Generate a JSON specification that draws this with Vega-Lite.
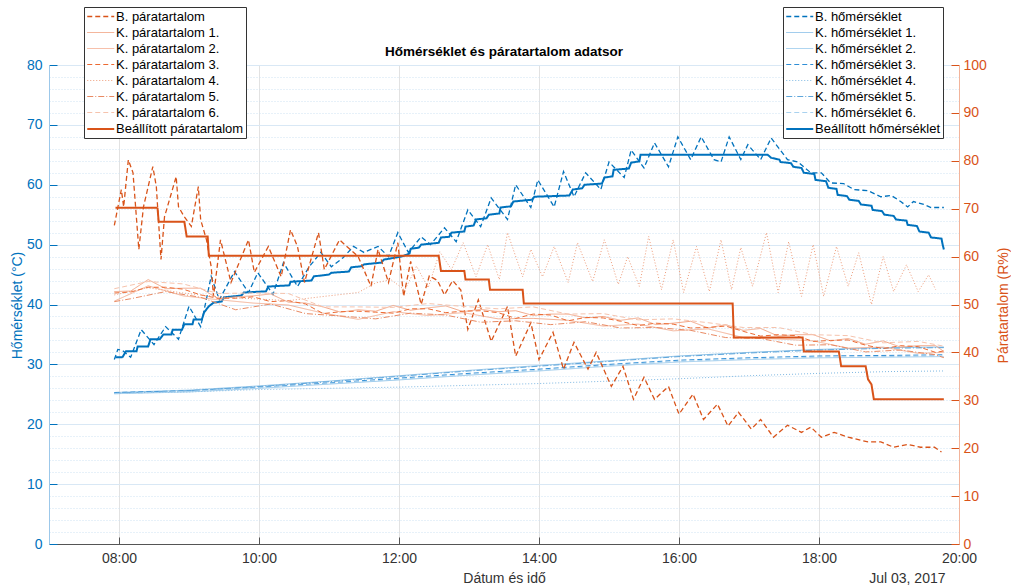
{
"$schema": "https://vega.github.io/schema/vega-lite/v6.json",
"width": 910, "height": 479,
"autosize": {"type": "none"},
"padding": {"left": 49, "top": 65, "right": 52, "bottom": 44},
"background": "white",
"title": {"text": "Hőmérséklet és páratartalom adatsor", "fontSize": 13.5, "fontWeight": "bold", "font": "Liberation Sans", "color": "#000", "offset": 7, "dy": 59, "anchor": "middle"},
"config": {
 "font": "Liberation Sans",
 "view": {"stroke": null},
 "axis": {"labelFont": "Liberation Sans", "titleFont": "Liberation Sans", "labelFontSize": 14, "titleFontSize": 14, "titleFontWeight": "normal"},
 "legend": {"symbolType": "M-1,0H3", "symbolSize": 182, "labelFontSize": 13, "labelFont": "Liberation Sans", "labelColor": "#000", "fillColor": "#fff", "strokeColor": "#333", "padding": 2, "rowPadding": 1, "labelOffset": 14, "labelLimit": 400}
},
"datasets": {
"temp": [
{"s":"B. hőmérséklet","t":"07:56","v":30.8},{"s":"B. hőmérséklet","t":"07:59","v":32.5},{"s":"B. hőmérséklet","t":"08:03","v":32.3},{"s":"B. hőmérséklet","t":"08:10","v":31.2},{"s":"B. hőmérséklet","t":"08:19","v":35.8},{"s":"B. hőmérséklet","t":"08:30","v":33.3},{"s":"B. hőmérséklet","t":"08:40","v":36.3},{"s":"B. hőmérséklet","t":"08:51","v":34.2},{"s":"B. hőmérséklet","t":"09:00","v":39.7},{"s":"B. hőmérséklet","t":"09:10","v":36.3},{"s":"B. hőmérséklet","t":"09:19","v":44.7},{"s":"B. hőmérséklet","t":"09:26","v":40.8},{"s":"B. hőmérséklet","t":"09:39","v":45.5},{"s":"B. hőmérséklet","t":"09:51","v":42.0},{"s":"B. hőmérséklet","t":"09:59","v":45.3},{"s":"B. hőmérséklet","t":"10:12","v":41.7},{"s":"B. hőmérséklet","t":"10:21","v":47.0},{"s":"B. hőmérséklet","t":"10:33","v":43.0},{"s":"B. hőmérséklet","t":"10:43","v":46.3},{"s":"B. hőmérséklet","t":"10:53","v":48.7},{"s":"B. hőmérséklet","t":"11:02","v":46.3},{"s":"B. hőmérséklet","t":"11:12","v":47.8},{"s":"B. hőmérséklet","t":"11:21","v":49.7},{"s":"B. hőmérséklet","t":"11:30","v":48.7},{"s":"B. hőmérséklet","t":"11:42","v":49.7},{"s":"B. hőmérséklet","t":"11:51","v":48.0},{"s":"B. hőmérséklet","t":"11:59","v":52.0},{"s":"B. hőmérséklet","t":"12:08","v":48.7},{"s":"B. hőmérséklet","t":"12:19","v":51.3},{"s":"B. hőmérséklet","t":"12:27","v":50.0},{"s":"B. hőmérséklet","t":"12:39","v":52.8},{"s":"B. hőmérséklet","t":"12:49","v":50.5},{"s":"B. hőmérséklet","t":"12:59","v":55.8},{"s":"B. hőmérséklet","t":"13:10","v":53.0},{"s":"B. hőmérséklet","t":"13:19","v":57.8},{"s":"B. hőmérséklet","t":"13:33","v":54.2},{"s":"B. hőmérséklet","t":"13:40","v":60.0},{"s":"B. hőmérséklet","t":"13:53","v":56.2},{"s":"B. hőmérséklet","t":"13:59","v":60.8},{"s":"B. hőmérséklet","t":"14:13","v":56.3},{"s":"B. hőmérséklet","t":"14:21","v":62.2},{"s":"B. hőmérséklet","t":"14:30","v":58.0},{"s":"B. hőmérséklet","t":"14:40","v":62.0},{"s":"B. hőmérséklet","t":"14:53","v":59.2},{"s":"B. hőmérséklet","t":"15:00","v":63.8},{"s":"B. hőmérséklet","t":"15:13","v":61.2},{"s":"B. hőmérséklet","t":"15:19","v":65.8},{"s":"B. hőmérséklet","t":"15:30","v":62.8},{"s":"B. hőmérséklet","t":"15:39","v":67.0},{"s":"B. hőmérséklet","t":"15:51","v":63.0},{"s":"B. hőmérséklet","t":"15:59","v":68.0},{"s":"B. hőmérséklet","t":"16:10","v":64.2},{"s":"B. hőmérséklet","t":"16:19","v":68.0},{"s":"B. hőmérséklet","t":"16:30","v":64.2},{"s":"B. hőmérséklet","t":"16:36","v":63.8},{"s":"B. hőmérséklet","t":"16:43","v":68.0},{"s":"B. hőmérséklet","t":"16:53","v":64.2},{"s":"B. hőmérséklet","t":"16:59","v":66.7},{"s":"B. hőmérséklet","t":"17:10","v":64.2},{"s":"B. hőmérséklet","t":"17:19","v":67.8},{"s":"B. hőmérséklet","t":"17:33","v":64.2},{"s":"B. hőmérséklet","t":"17:42","v":63.8},{"s":"B. hőmérséklet","t":"17:53","v":62.0},{"s":"B. hőmérséklet","t":"18:02","v":62.0},{"s":"B. hőmérséklet","t":"18:10","v":60.3},{"s":"B. hőmérséklet","t":"18:21","v":60.2},{"s":"B. hőmérséklet","t":"18:30","v":59.2},{"s":"B. hőmérséklet","t":"18:42","v":59.0},{"s":"B. hőmérséklet","t":"18:53","v":58.0},{"s":"B. hőmérséklet","t":"19:02","v":58.2},{"s":"B. hőmérséklet","t":"19:10","v":57.2},{"s":"B. hőmérséklet","t":"19:16","v":56.3},{"s":"B. hőmérséklet","t":"19:21","v":57.2},{"s":"B. hőmérséklet","t":"19:30","v":56.7},{"s":"B. hőmérséklet","t":"19:36","v":56.2},{"s":"B. hőmérséklet","t":"19:47","v":56.2},
{"s":"K. hőmérséklet 1.","t":"07:56","v":25.3},{"s":"K. hőmérséklet 1.","t":"09:00","v":25.7},{"s":"K. hőmérséklet 1.","t":"10:00","v":26.4},{"s":"K. hőmérséklet 1.","t":"11:00","v":27.2},{"s":"K. hőmérséklet 1.","t":"12:00","v":28.1},{"s":"K. hőmérséklet 1.","t":"13:00","v":29.0},{"s":"K. hőmérséklet 1.","t":"14:00","v":29.8},{"s":"K. hőmérséklet 1.","t":"15:00","v":30.6},{"s":"K. hőmérséklet 1.","t":"16:00","v":31.4},{"s":"K. hőmérséklet 1.","t":"17:00","v":32.0},{"s":"K. hőmérséklet 1.","t":"18:00","v":32.5},{"s":"K. hőmérséklet 1.","t":"19:00","v":32.8},{"s":"K. hőmérséklet 1.","t":"19:47","v":32.9},
{"s":"K. hőmérséklet 2.","t":"07:56","v":25.1},{"s":"K. hőmérséklet 2.","t":"09:00","v":25.4},{"s":"K. hőmérséklet 2.","t":"10:00","v":26.0},{"s":"K. hőmérséklet 2.","t":"11:00","v":26.7},{"s":"K. hőmérséklet 2.","t":"12:00","v":27.4},{"s":"K. hőmérséklet 2.","t":"13:00","v":28.2},{"s":"K. hőmérséklet 2.","t":"14:00","v":28.9},{"s":"K. hőmérséklet 2.","t":"15:00","v":29.7},{"s":"K. hőmérséklet 2.","t":"16:00","v":30.4},{"s":"K. hőmérséklet 2.","t":"17:00","v":30.8},{"s":"K. hőmérséklet 2.","t":"18:00","v":31.1},{"s":"K. hőmérséklet 2.","t":"19:00","v":31.2},{"s":"K. hőmérséklet 2.","t":"19:47","v":31.3},
{"s":"K. hőmérséklet 3.","t":"07:56","v":25.3},{"s":"K. hőmérséklet 3.","t":"09:00","v":25.6},{"s":"K. hőmérséklet 3.","t":"10:00","v":26.2},{"s":"K. hőmérséklet 3.","t":"11:00","v":26.9},{"s":"K. hőmérséklet 3.","t":"12:00","v":27.7},{"s":"K. hőmérséklet 3.","t":"13:00","v":28.5},{"s":"K. hőmérséklet 3.","t":"14:00","v":29.2},{"s":"K. hőmérséklet 3.","t":"15:00","v":30.0},{"s":"K. hőmérséklet 3.","t":"16:00","v":30.7},{"s":"K. hőmérséklet 3.","t":"17:00","v":31.1},{"s":"K. hőmérséklet 3.","t":"18:00","v":31.4},{"s":"K. hőmérséklet 3.","t":"19:00","v":31.5},{"s":"K. hőmérséklet 3.","t":"19:47","v":31.6},
{"s":"K. hőmérséklet 4.","t":"07:56","v":25.2},{"s":"K. hőmérséklet 4.","t":"09:00","v":25.4},{"s":"K. hőmérséklet 4.","t":"10:00","v":25.8},{"s":"K. hőmérséklet 4.","t":"11:00","v":26.0},{"s":"K. hőmérséklet 4.","t":"12:00","v":26.2},{"s":"K. hőmérséklet 4.","t":"13:00","v":26.5},{"s":"K. hőmérséklet 4.","t":"14:00","v":26.8},{"s":"K. hőmérséklet 4.","t":"15:00","v":27.2},{"s":"K. hőmérséklet 4.","t":"16:00","v":27.6},{"s":"K. hőmérséklet 4.","t":"17:00","v":28.1},{"s":"K. hőmérséklet 4.","t":"18:00","v":28.5},{"s":"K. hőmérséklet 4.","t":"19:00","v":28.8},{"s":"K. hőmérséklet 4.","t":"19:47","v":28.9},
{"s":"K. hőmérséklet 5.","t":"07:56","v":25.2},{"s":"K. hőmérséklet 5.","t":"09:00","v":25.6},{"s":"K. hőmérséklet 5.","t":"10:00","v":26.3},{"s":"K. hőmérséklet 5.","t":"11:00","v":27.1},{"s":"K. hőmérséklet 5.","t":"12:00","v":28.0},{"s":"K. hőmérséklet 5.","t":"13:00","v":28.9},{"s":"K. hőmérséklet 5.","t":"14:00","v":29.7},{"s":"K. hőmérséklet 5.","t":"15:00","v":30.5},{"s":"K. hőmérséklet 5.","t":"16:00","v":31.3},{"s":"K. hőmérséklet 5.","t":"17:00","v":31.9},{"s":"K. hőmérséklet 5.","t":"18:00","v":32.4},{"s":"K. hőmérséklet 5.","t":"19:00","v":32.7},{"s":"K. hőmérséklet 5.","t":"19:47","v":32.8},
{"s":"K. hőmérséklet 6.","t":"07:56","v":25.1},{"s":"K. hőmérséklet 6.","t":"09:00","v":25.5},{"s":"K. hőmérséklet 6.","t":"10:00","v":26.1},{"s":"K. hőmérséklet 6.","t":"11:00","v":26.8},{"s":"K. hőmérséklet 6.","t":"12:00","v":27.5},{"s":"K. hőmérséklet 6.","t":"13:00","v":28.3},{"s":"K. hőmérséklet 6.","t":"14:00","v":29.0},{"s":"K. hőmérséklet 6.","t":"15:00","v":29.8},{"s":"K. hőmérséklet 6.","t":"16:00","v":30.5},{"s":"K. hőmérséklet 6.","t":"17:00","v":30.9},{"s":"K. hőmérséklet 6.","t":"18:00","v":31.2},{"s":"K. hőmérséklet 6.","t":"19:00","v":31.3},{"s":"K. hőmérséklet 6.","t":"19:47","v":31.4},
{"s":"Beállított hőmérséklet","t":"07:57","v":31.2},{"s":"Beállított hőmérséklet","t":"08:03","v":31.2},{"s":"Beállított hőmérséklet","t":"08:06","v":32.2},{"s":"Beállított hőmérséklet","t":"08:15","v":32.2},{"s":"Beállított hőmérséklet","t":"08:16","v":33.0},{"s":"Beállított hőmérséklet","t":"08:25","v":33.0},{"s":"Beállított hőmérséklet","t":"08:27","v":34.2},{"s":"Beállított hőmérséklet","t":"08:35","v":34.2},{"s":"Beállított hőmérséklet","t":"08:38","v":35.0},{"s":"Beállított hőmérséklet","t":"08:45","v":35.0},{"s":"Beállított hőmérséklet","t":"08:46","v":35.8},{"s":"Beállított hőmérséklet","t":"08:54","v":35.8},{"s":"Beállított hőmérséklet","t":"08:56","v":36.7},{"s":"Beállított hőmérséklet","t":"09:03","v":36.7},{"s":"Beállított hőmérséklet","t":"09:04","v":37.5},{"s":"Beállított hőmérséklet","t":"09:11","v":37.5},{"s":"Beállított hőmérséklet","t":"09:13","v":38.7},{"s":"Beállított hőmérséklet","t":"09:17","v":39.7},{"s":"Beállított hőmérséklet","t":"09:21","v":40.3},{"s":"Beállított hőmérséklet","t":"09:28","v":40.5},{"s":"Beállított hőmérséklet","t":"09:30","v":41.2},{"s":"Beállított hőmérséklet","t":"09:45","v":41.5},{"s":"Beállított hőmérséklet","t":"09:47","v":42.0},{"s":"Beállított hőmérséklet","t":"10:06","v":42.2},{"s":"Beállított hőmérséklet","t":"10:08","v":43.0},{"s":"Beállított hőmérséklet","t":"10:26","v":43.2},{"s":"Beállított hőmérséklet","t":"10:27","v":43.8},{"s":"Beállított hőmérséklet","t":"10:45","v":44.0},{"s":"Beállított hőmérséklet","t":"10:47","v":44.7},{"s":"Beállított hőmérséklet","t":"11:00","v":45.0},{"s":"Beállított hőmérséklet","t":"11:02","v":45.3},{"s":"Beállított hőmérséklet","t":"11:17","v":45.5},{"s":"Beállított hőmérséklet","t":"11:19","v":46.2},{"s":"Beállított hőmérséklet","t":"11:28","v":46.4},{"s":"Beállított hőmérséklet","t":"11:30","v":46.7},{"s":"Beállított hőmérséklet","t":"11:45","v":47.0},{"s":"Beállított hőmérséklet","t":"11:47","v":47.5},{"s":"Beállított hőmérséklet","t":"12:02","v":48.0},{"s":"Beállított hőmérséklet","t":"12:09","v":48.5},{"s":"Beállított hőmérséklet","t":"12:10","v":49.3},{"s":"Beállított hőmérséklet","t":"12:17","v":49.5},{"s":"Beállított hőmérséklet","t":"12:19","v":50.0},{"s":"Beállított hőmérséklet","t":"12:34","v":50.3},{"s":"Beállított hőmérséklet","t":"12:36","v":51.2},{"s":"Beállított hőmérséklet","t":"12:43","v":51.3},{"s":"Beállított hőmérséklet","t":"12:45","v":52.0},{"s":"Beállított hőmérséklet","t":"12:56","v":52.2},{"s":"Beállított hőmérséklet","t":"12:57","v":53.0},{"s":"Beállított hőmérséklet","t":"13:04","v":53.2},{"s":"Beállított hőmérséklet","t":"13:06","v":54.2},{"s":"Beállított hőmérséklet","t":"13:15","v":54.4},{"s":"Beállított hőmérséklet","t":"13:17","v":55.0},{"s":"Beállított hőmérséklet","t":"13:26","v":55.2},{"s":"Beállított hőmérséklet","t":"13:27","v":56.2},{"s":"Beállított hőmérséklet","t":"13:36","v":56.4},{"s":"Beállított hőmérséklet","t":"13:38","v":57.2},{"s":"Beállított hőmérséklet","t":"13:54","v":57.5},{"s":"Beállított hőmérséklet","t":"13:56","v":58.0},{"s":"Beállított hőmérséklet","t":"14:26","v":58.2},{"s":"Beállított hőmérséklet","t":"14:29","v":59.2},{"s":"Beállított hőmérséklet","t":"14:37","v":59.4},{"s":"Beállított hőmérséklet","t":"14:39","v":60.0},{"s":"Beállított hőmérséklet","t":"14:54","v":60.2},{"s":"Beállított hőmérséklet","t":"14:56","v":61.2},{"s":"Beállított hőmérséklet","t":"15:03","v":61.4},{"s":"Beállított hőmérséklet","t":"15:04","v":62.5},{"s":"Beállított hőmérséklet","t":"15:17","v":62.7},{"s":"Beállított hőmérséklet","t":"15:19","v":63.7},{"s":"Beállított hőmérséklet","t":"15:26","v":63.9},{"s":"Beállított hőmérséklet","t":"15:27","v":65.0},{"s":"Beállított hőmérséklet","t":"17:16","v":65.0},{"s":"Beállított hőmérséklet","t":"17:19","v":64.5},{"s":"Beállított hőmérséklet","t":"17:26","v":64.2},{"s":"Beállított hőmérséklet","t":"17:27","v":63.8},{"s":"Beállított hőmérséklet","t":"17:36","v":63.6},{"s":"Beállított hőmérséklet","t":"17:38","v":63.0},{"s":"Beállított hőmérséklet","t":"17:45","v":62.8},{"s":"Beállított hőmérséklet","t":"17:47","v":62.0},{"s":"Beállított hőmérséklet","t":"17:56","v":61.8},{"s":"Beállított hőmérséklet","t":"17:57","v":60.8},{"s":"Beállított hőmérséklet","t":"18:06","v":60.6},{"s":"Beállított hőmérséklet","t":"18:08","v":59.5},{"s":"Beállított hőmérséklet","t":"18:15","v":59.3},{"s":"Beállított hőmérséklet","t":"18:16","v":58.3},{"s":"Beállított hőmérséklet","t":"18:24","v":58.1},{"s":"Beállított hőmérséklet","t":"18:26","v":57.5},{"s":"Beállított hőmérséklet","t":"18:34","v":57.3},{"s":"Beállított hőmérséklet","t":"18:36","v":56.7},{"s":"Beállított hőmérséklet","t":"18:45","v":56.5},{"s":"Beállított hőmérséklet","t":"18:46","v":55.8},{"s":"Beállított hőmérséklet","t":"18:54","v":55.6},{"s":"Beállított hőmérséklet","t":"18:56","v":55.0},{"s":"Beállított hőmérséklet","t":"19:04","v":54.8},{"s":"Beállított hőmérséklet","t":"19:06","v":54.2},{"s":"Beállított hőmérséklet","t":"19:15","v":54.0},{"s":"Beállított hőmérséklet","t":"19:16","v":53.3},{"s":"Beállított hőmérséklet","t":"19:24","v":53.1},{"s":"Beállított hőmérséklet","t":"19:26","v":52.2},{"s":"Beállított hőmérséklet","t":"19:34","v":52.0},{"s":"Beállított hőmérséklet","t":"19:36","v":51.2},{"s":"Beállított hőmérséklet","t":"19:45","v":51.0},{"s":"Beállított hőmérséklet","t":"19:46","v":50.0},{"s":"Beállított hőmérséklet","t":"19:47","v":49.2}
],
"hum": [
{"s":"B. páratartalom","t":"07:56","v":66.5},{"s":"B. páratartalom","t":"08:02","v":74.0},{"s":"B. páratartalom","t":"08:04","v":70.4},{"s":"B. páratartalom","t":"08:08","v":80.2},{"s":"B. páratartalom","t":"08:12","v":77.5},{"s":"B. páratartalom","t":"08:17","v":61.5},{"s":"B. páratartalom","t":"08:21","v":70.4},{"s":"B. páratartalom","t":"08:29","v":78.8},{"s":"B. páratartalom","t":"08:32","v":74.6},{"s":"B. páratartalom","t":"08:36","v":59.4},{"s":"B. páratartalom","t":"08:39","v":68.3},{"s":"B. páratartalom","t":"08:49","v":76.7},{"s":"B. páratartalom","t":"08:51","v":70.4},{"s":"B. páratartalom","t":"08:56","v":68.3},{"s":"B. páratartalom","t":"09:02","v":66.3},{"s":"B. páratartalom","t":"09:08","v":74.6},{"s":"B. páratartalom","t":"09:10","v":67.7},{"s":"B. páratartalom","t":"09:15","v":63.5},{"s":"B. páratartalom","t":"09:19","v":57.9},{"s":"B. páratartalom","t":"09:21","v":51.7},{"s":"B. páratartalom","t":"09:27","v":63.5},{"s":"B. páratartalom","t":"09:36","v":54.6},{"s":"B. páratartalom","t":"09:51","v":63.5},{"s":"B. páratartalom","t":"09:56","v":56.7},{"s":"B. páratartalom","t":"10:08","v":62.1},{"s":"B. páratartalom","t":"10:19","v":55.8},{"s":"B. páratartalom","t":"10:27","v":65.6},{"s":"B. páratartalom","t":"10:33","v":62.1},{"s":"B. páratartalom","t":"10:39","v":54.6},{"s":"B. páratartalom","t":"10:51","v":65.0},{"s":"B. páratartalom","t":"10:56","v":57.3},{"s":"B. páratartalom","t":"11:09","v":63.5},{"s":"B. páratartalom","t":"11:25","v":60.0},{"s":"B. páratartalom","t":"11:36","v":53.8},{"s":"B. páratartalom","t":"11:42","v":61.5},{"s":"B. páratartalom","t":"11:51","v":54.6},{"s":"B. páratartalom","t":"11:59","v":62.9},{"s":"B. páratartalom","t":"12:04","v":51.7},{"s":"B. páratartalom","t":"12:10","v":59.0},{"s":"B. páratartalom","t":"12:19","v":50.0},{"s":"B. páratartalom","t":"12:26","v":56.0},{"s":"B. páratartalom","t":"12:33","v":55.0},{"s":"B. páratartalom","t":"12:39","v":52.0},{"s":"B. páratartalom","t":"12:46","v":55.0},{"s":"B. páratartalom","t":"12:53","v":53.0},{"s":"B. páratartalom","t":"12:59","v":44.8},{"s":"B. páratartalom","t":"13:08","v":51.0},{"s":"B. páratartalom","t":"13:19","v":42.3},{"s":"B. páratartalom","t":"13:33","v":49.6},{"s":"B. páratartalom","t":"13:40","v":39.2},{"s":"B. páratartalom","t":"13:53","v":46.2},{"s":"B. páratartalom","t":"14:00","v":38.5},{"s":"B. páratartalom","t":"14:12","v":44.2},{"s":"B. páratartalom","t":"14:21","v":36.5},{"s":"B. páratartalom","t":"14:30","v":42.1},{"s":"B. páratartalom","t":"14:42","v":36.5},{"s":"B. páratartalom","t":"14:49","v":40.0},{"s":"B. páratartalom","t":"15:02","v":32.9},{"s":"B. páratartalom","t":"15:12","v":37.1},{"s":"B. páratartalom","t":"15:21","v":30.2},{"s":"B. páratartalom","t":"15:30","v":34.8},{"s":"B. páratartalom","t":"15:39","v":30.2},{"s":"B. páratartalom","t":"15:51","v":32.9},{"s":"B. páratartalom","t":"16:00","v":27.1},{"s":"B. páratartalom","t":"16:12","v":31.3},{"s":"B. páratartalom","t":"16:21","v":26.0},{"s":"B. páratartalom","t":"16:33","v":29.2},{"s":"B. páratartalom","t":"16:42","v":24.6},{"s":"B. páratartalom","t":"16:51","v":27.5},{"s":"B. páratartalom","t":"17:02","v":24.0},{"s":"B. páratartalom","t":"17:10","v":26.0},{"s":"B. páratartalom","t":"17:21","v":22.3},{"s":"B. páratartalom","t":"17:33","v":24.8},{"s":"B. páratartalom","t":"17:45","v":23.3},{"s":"B. páratartalom","t":"17:53","v":24.4},{"s":"B. páratartalom","t":"18:02","v":22.3},{"s":"B. páratartalom","t":"18:13","v":23.3},{"s":"B. páratartalom","t":"18:25","v":22.3},{"s":"B. páratartalom","t":"18:42","v":21.3},{"s":"B. páratartalom","t":"18:53","v":21.3},{"s":"B. páratartalom","t":"19:04","v":20.2},{"s":"B. páratartalom","t":"19:16","v":20.8},{"s":"B. páratartalom","t":"19:27","v":20.2},{"s":"B. páratartalom","t":"19:39","v":20.2},{"s":"B. páratartalom","t":"19:45","v":19.2},
{"s":"K. páratartalom 1.","t":"07:56","v":52.7},{"s":"K. páratartalom 1.","t":"08:10","v":52.8},{"s":"K. páratartalom 1.","t":"08:25","v":55.2},{"s":"K. páratartalom 1.","t":"08:40","v":53.3},{"s":"K. páratartalom 1.","t":"08:55","v":53.4},{"s":"K. páratartalom 1.","t":"09:10","v":53.4},{"s":"K. páratartalom 1.","t":"09:25","v":51.2},{"s":"K. páratartalom 1.","t":"09:40","v":51.6},{"s":"K. páratartalom 1.","t":"09:55","v":51.8},{"s":"K. páratartalom 1.","t":"10:10","v":52.2},{"s":"K. páratartalom 1.","t":"10:25","v":50.5},{"s":"K. páratartalom 1.","t":"10:40","v":50.3},{"s":"K. páratartalom 1.","t":"10:55","v":49.5},{"s":"K. páratartalom 1.","t":"11:10","v":48.4},{"s":"K. páratartalom 1.","t":"11:25","v":48.9},{"s":"K. páratartalom 1.","t":"11:40","v":48.6},{"s":"K. páratartalom 1.","t":"11:55","v":49.8},{"s":"K. páratartalom 1.","t":"12:10","v":48.8},{"s":"K. páratartalom 1.","t":"12:25","v":49.3},{"s":"K. páratartalom 1.","t":"12:40","v":49.7},{"s":"K. páratartalom 1.","t":"12:55","v":48.5},{"s":"K. páratartalom 1.","t":"13:10","v":49.0},{"s":"K. páratartalom 1.","t":"13:25","v":48.5},{"s":"K. páratartalom 1.","t":"13:40","v":48.7},{"s":"K. páratartalom 1.","t":"13:55","v":47.7},{"s":"K. páratartalom 1.","t":"14:10","v":48.0},{"s":"K. páratartalom 1.","t":"14:25","v":48.0},{"s":"K. páratartalom 1.","t":"14:40","v":47.2},{"s":"K. páratartalom 1.","t":"14:55","v":47.5},{"s":"K. páratartalom 1.","t":"15:10","v":46.7},{"s":"K. páratartalom 1.","t":"15:25","v":47.2},{"s":"K. páratartalom 1.","t":"15:40","v":45.8},{"s":"K. páratartalom 1.","t":"15:55","v":46.1},{"s":"K. páratartalom 1.","t":"16:10","v":46.5},{"s":"K. páratartalom 1.","t":"16:25","v":45.1},{"s":"K. páratartalom 1.","t":"16:40","v":45.8},{"s":"K. páratartalom 1.","t":"16:55","v":44.6},{"s":"K. páratartalom 1.","t":"17:10","v":45.0},{"s":"K. páratartalom 1.","t":"17:25","v":43.4},{"s":"K. páratartalom 1.","t":"17:40","v":43.7},{"s":"K. páratartalom 1.","t":"17:55","v":43.7},{"s":"K. páratartalom 1.","t":"18:10","v":42.4},{"s":"K. páratartalom 1.","t":"18:25","v":42.9},{"s":"K. páratartalom 1.","t":"18:40","v":41.7},{"s":"K. páratartalom 1.","t":"18:55","v":42.4},{"s":"K. páratartalom 1.","t":"19:10","v":41.1},{"s":"K. páratartalom 1.","t":"19:25","v":41.4},{"s":"K. páratartalom 1.","t":"19:40","v":41.4},{"s":"K. páratartalom 1.","t":"19:47","v":40.2},
{"s":"K. páratartalom 2.","t":"07:56","v":50.7},{"s":"K. páratartalom 2.","t":"08:25","v":53.9},{"s":"K. páratartalom 2.","t":"08:55","v":51.8},{"s":"K. páratartalom 2.","t":"09:25","v":51.0},{"s":"K. páratartalom 2.","t":"09:55","v":50.3},{"s":"K. páratartalom 2.","t":"10:25","v":49.9},{"s":"K. páratartalom 2.","t":"10:55","v":48.2},{"s":"K. páratartalom 2.","t":"11:25","v":46.9},{"s":"K. páratartalom 2.","t":"11:55","v":48.5},{"s":"K. páratartalom 2.","t":"12:25","v":47.7},{"s":"K. páratartalom 2.","t":"12:55","v":48.3},{"s":"K. páratartalom 2.","t":"13:25","v":47.0},{"s":"K. páratartalom 2.","t":"13:55","v":47.1},{"s":"K. páratartalom 2.","t":"14:25","v":46.7},{"s":"K. páratartalom 2.","t":"14:55","v":45.5},{"s":"K. páratartalom 2.","t":"15:25","v":45.9},{"s":"K. páratartalom 2.","t":"15:55","v":44.5},{"s":"K. páratartalom 2.","t":"16:25","v":44.9},{"s":"K. páratartalom 2.","t":"16:55","v":43.1},{"s":"K. páratartalom 2.","t":"17:25","v":42.8},{"s":"K. páratartalom 2.","t":"17:55","v":42.4},{"s":"K. páratartalom 2.","t":"18:25","v":40.9},{"s":"K. páratartalom 2.","t":"18:55","v":41.1},{"s":"K. páratartalom 2.","t":"19:25","v":39.8},{"s":"K. páratartalom 2.","t":"19:47","v":40.0},
{"s":"K. páratartalom 3.","t":"07:56","v":52.4},{"s":"K. páratartalom 3.","t":"08:10","v":52.6},{"s":"K. páratartalom 3.","t":"08:25","v":53.6},{"s":"K. páratartalom 3.","t":"08:40","v":53.6},{"s":"K. páratartalom 3.","t":"08:55","v":53.2},{"s":"K. páratartalom 3.","t":"09:10","v":52.0},{"s":"K. páratartalom 3.","t":"09:25","v":51.3},{"s":"K. páratartalom 3.","t":"09:40","v":51.3},{"s":"K. páratartalom 3.","t":"09:55","v":51.6},{"s":"K. páratartalom 3.","t":"10:10","v":50.6},{"s":"K. páratartalom 3.","t":"10:25","v":50.8},{"s":"K. páratartalom 3.","t":"10:40","v":50.1},{"s":"K. páratartalom 3.","t":"10:55","v":48.1},{"s":"K. páratartalom 3.","t":"11:10","v":48.5},{"s":"K. páratartalom 3.","t":"11:25","v":48.6},{"s":"K. páratartalom 3.","t":"11:40","v":48.4},{"s":"K. páratartalom 3.","t":"11:55","v":48.2},{"s":"K. páratartalom 3.","t":"12:10","v":49.1},{"s":"K. páratartalom 3.","t":"12:25","v":49.1},{"s":"K. páratartalom 3.","t":"12:40","v":48.3},{"s":"K. páratartalom 3.","t":"12:55","v":48.6},{"s":"K. páratartalom 3.","t":"13:10","v":48.7},{"s":"K. páratartalom 3.","t":"13:25","v":48.3},{"s":"K. páratartalom 3.","t":"13:40","v":47.1},{"s":"K. páratartalom 3.","t":"13:55","v":48.0},{"s":"K. páratartalom 3.","t":"14:10","v":47.8},{"s":"K. páratartalom 3.","t":"14:25","v":46.6},{"s":"K. páratartalom 3.","t":"14:40","v":47.3},{"s":"K. páratartalom 3.","t":"14:55","v":47.2},{"s":"K. páratartalom 3.","t":"15:10","v":46.5},{"s":"K. páratartalom 3.","t":"15:25","v":45.6},{"s":"K. páratartalom 3.","t":"15:40","v":46.1},{"s":"K. páratartalom 3.","t":"15:55","v":45.9},{"s":"K. páratartalom 3.","t":"16:10","v":45.1},{"s":"K. páratartalom 3.","t":"16:25","v":45.2},{"s":"K. páratartalom 3.","t":"16:40","v":45.5},{"s":"K. páratartalom 3.","t":"16:55","v":44.4},{"s":"K. páratartalom 3.","t":"17:10","v":43.4},{"s":"K. páratartalom 3.","t":"17:25","v":43.7},{"s":"K. páratartalom 3.","t":"17:40","v":43.5},{"s":"K. páratartalom 3.","t":"17:55","v":42.3},{"s":"K. páratartalom 3.","t":"18:10","v":42.5},{"s":"K. páratartalom 3.","t":"18:25","v":42.6},{"s":"K. páratartalom 3.","t":"18:40","v":41.5},{"s":"K. páratartalom 3.","t":"18:55","v":40.8},{"s":"K. páratartalom 3.","t":"19:10","v":41.4},{"s":"K. páratartalom 3.","t":"19:25","v":41.2},{"s":"K. páratartalom 3.","t":"19:40","v":40.0},{"s":"K. páratartalom 3.","t":"19:47","v":40.3},
{"s":"K. páratartalom 4.","t":"07:56","v":52.0},{"s":"K. páratartalom 4.","t":"08:25","v":53.5},{"s":"K. páratartalom 4.","t":"08:55","v":52.4},{"s":"K. páratartalom 4.","t":"09:25","v":51.6},{"s":"K. páratartalom 4.","t":"09:55","v":51.2},{"s":"K. páratartalom 4.","t":"10:25","v":50.8},{"s":"K. páratartalom 4.","t":"10:56","v":51.7},{"s":"K. páratartalom 4.","t":"11:25","v":52.5},{"s":"K. páratartalom 4.","t":"11:40","v":54.5},{"s":"K. páratartalom 4.","t":"11:53","v":55.2},{"s":"K. páratartalom 4.","t":"12:05","v":53.0},{"s":"K. páratartalom 4.","t":"12:15","v":58.0},{"s":"K. páratartalom 4.","t":"12:25","v":53.5},{"s":"K. páratartalom 4.","t":"12:35","v":61.0},{"s":"K. páratartalom 4.","t":"12:45","v":57.3},{"s":"K. páratartalom 4.","t":"12:55","v":62.9},{"s":"K. páratartalom 4.","t":"13:06","v":55.8},{"s":"K. páratartalom 4.","t":"13:16","v":62.5},{"s":"K. páratartalom 4.","t":"13:26","v":55.2},{"s":"K. páratartalom 4.","t":"13:33","v":65.0},{"s":"K. páratartalom 4.","t":"13:46","v":55.8},{"s":"K. páratartalom 4.","t":"13:53","v":61.5},{"s":"K. páratartalom 4.","t":"14:03","v":55.8},{"s":"K. páratartalom 4.","t":"14:13","v":62.1},{"s":"K. páratartalom 4.","t":"14:25","v":54.6},{"s":"K. páratartalom 4.","t":"14:33","v":62.9},{"s":"K. páratartalom 4.","t":"14:46","v":54.8},{"s":"K. páratartalom 4.","t":"14:56","v":63.5},{"s":"K. páratartalom 4.","t":"15:08","v":54.2},{"s":"K. páratartalom 4.","t":"15:16","v":60.0},{"s":"K. páratartalom 4.","t":"15:26","v":53.8},{"s":"K. páratartalom 4.","t":"15:34","v":64.2},{"s":"K. páratartalom 4.","t":"15:45","v":53.1},{"s":"K. páratartalom 4.","t":"15:55","v":63.5},{"s":"K. páratartalom 4.","t":"16:04","v":52.5},{"s":"K. páratartalom 4.","t":"16:15","v":62.1},{"s":"K. páratartalom 4.","t":"16:26","v":52.7},{"s":"K. páratartalom 4.","t":"16:36","v":63.5},{"s":"K. páratartalom 4.","t":"16:45","v":53.1},{"s":"K. páratartalom 4.","t":"16:53","v":61.9},{"s":"K. páratartalom 4.","t":"17:03","v":53.8},{"s":"K. páratartalom 4.","t":"17:15","v":65.0},{"s":"K. páratartalom 4.","t":"17:25","v":52.5},{"s":"K. páratartalom 4.","t":"17:34","v":63.1},{"s":"K. páratartalom 4.","t":"17:45","v":51.7},{"s":"K. páratartalom 4.","t":"17:55","v":62.5},{"s":"K. páratartalom 4.","t":"18:04","v":51.7},{"s":"K. páratartalom 4.","t":"18:15","v":62.1},{"s":"K. páratartalom 4.","t":"18:25","v":53.8},{"s":"K. páratartalom 4.","t":"18:34","v":60.8},{"s":"K. páratartalom 4.","t":"18:45","v":50.0},{"s":"K. páratartalom 4.","t":"18:55","v":60.0},{"s":"K. páratartalom 4.","t":"19:04","v":52.7},{"s":"K. páratartalom 4.","t":"19:15","v":58.3},{"s":"K. páratartalom 4.","t":"19:25","v":52.7},{"s":"K. páratartalom 4.","t":"19:34","v":56.2},{"s":"K. páratartalom 4.","t":"19:40","v":53.1},
{"s":"K. páratartalom 5.","t":"07:56","v":50.6},{"s":"K. páratartalom 5.","t":"08:10","v":51.2},{"s":"K. páratartalom 5.","t":"08:40","v":52.7},{"s":"K. páratartalom 5.","t":"09:10","v":51.5},{"s":"K. páratartalom 5.","t":"09:40","v":48.9},{"s":"K. páratartalom 5.","t":"10:10","v":50.1},{"s":"K. páratartalom 5.","t":"10:40","v":48.1},{"s":"K. páratartalom 5.","t":"11:10","v":47.6},{"s":"K. páratartalom 5.","t":"11:40","v":47.0},{"s":"K. páratartalom 5.","t":"12:10","v":48.2},{"s":"K. páratartalom 5.","t":"12:40","v":47.8},{"s":"K. páratartalom 5.","t":"13:10","v":46.3},{"s":"K. páratartalom 5.","t":"13:40","v":46.6},{"s":"K. páratartalom 5.","t":"14:10","v":45.8},{"s":"K. páratartalom 5.","t":"14:40","v":46.4},{"s":"K. páratartalom 5.","t":"15:10","v":45.1},{"s":"K. páratartalom 5.","t":"15:40","v":45.2},{"s":"K. páratartalom 5.","t":"16:10","v":44.6},{"s":"K. páratartalom 5.","t":"16:40","v":43.1},{"s":"K. páratartalom 5.","t":"17:10","v":42.9},{"s":"K. páratartalom 5.","t":"17:40","v":41.5},{"s":"K. páratartalom 5.","t":"18:10","v":41.6},{"s":"K. páratartalom 5.","t":"18:40","v":40.1},{"s":"K. páratartalom 5.","t":"19:10","v":40.5},{"s":"K. páratartalom 5.","t":"19:40","v":39.5},{"s":"K. páratartalom 5.","t":"19:47","v":38.9},
{"s":"K. páratartalom 6.","t":"07:56","v":53.3},{"s":"K. páratartalom 6.","t":"08:25","v":54.8},{"s":"K. páratartalom 6.","t":"08:55","v":54.3},{"s":"K. páratartalom 6.","t":"09:25","v":52.3},{"s":"K. páratartalom 6.","t":"09:55","v":52.4},{"s":"K. páratartalom 6.","t":"10:25","v":52.3},{"s":"K. páratartalom 6.","t":"10:55","v":49.5},{"s":"K. páratartalom 6.","t":"11:25","v":49.5},{"s":"K. páratartalom 6.","t":"11:55","v":49.4},{"s":"K. páratartalom 6.","t":"12:25","v":50.2},{"s":"K. páratartalom 6.","t":"12:55","v":49.6},{"s":"K. páratartalom 6.","t":"13:25","v":49.1},{"s":"K. páratartalom 6.","t":"13:55","v":49.5},{"s":"K. páratartalom 6.","t":"14:25","v":48.0},{"s":"K. páratartalom 6.","t":"14:55","v":48.1},{"s":"K. páratartalom 6.","t":"15:25","v":46.8},{"s":"K. páratartalom 6.","t":"15:55","v":47.0},{"s":"K. páratartalom 6.","t":"16:25","v":46.2},{"s":"K. páratartalom 6.","t":"16:55","v":45.2},{"s":"K. páratartalom 6.","t":"17:25","v":45.2},{"s":"K. páratartalom 6.","t":"17:55","v":43.7},{"s":"K. páratartalom 6.","t":"18:25","v":43.5},{"s":"K. páratartalom 6.","t":"18:55","v":42.0},{"s":"K. páratartalom 6.","t":"19:25","v":42.3},{"s":"K. páratartalom 6.","t":"19:47","v":41.3},
{"s":"Beállított páratartalom","t":"07:57","v":70.2},{"s":"Beállított páratartalom","t":"08:33","v":70.2},{"s":"Beállított páratartalom","t":"08:34","v":67.3},{"s":"Beállított páratartalom","t":"08:56","v":67.3},{"s":"Beállított páratartalom","t":"08:58","v":64.2},{"s":"Beállított páratartalom","t":"09:16","v":64.2},{"s":"Beállított páratartalom","t":"09:17","v":60.2},{"s":"Beállított páratartalom","t":"12:34","v":60.2},{"s":"Beállított páratartalom","t":"12:36","v":57.0},{"s":"Beállított páratartalom","t":"12:56","v":57.0},{"s":"Beállított páratartalom","t":"12:57","v":55.2},{"s":"Beállított páratartalom","t":"13:17","v":55.2},{"s":"Beállított páratartalom","t":"13:18","v":53.1},{"s":"Beállított páratartalom","t":"13:46","v":53.1},{"s":"Beállított páratartalom","t":"13:47","v":50.2},{"s":"Beállított páratartalom","t":"16:46","v":50.2},{"s":"Beállított páratartalom","t":"16:47","v":43.1},{"s":"Beállított páratartalom","t":"17:46","v":43.1},{"s":"Beállított páratartalom","t":"17:47","v":40.2},{"s":"Beállított páratartalom","t":"18:17","v":40.2},{"s":"Beállított páratartalom","t":"18:19","v":37.1},{"s":"Beállított páratartalom","t":"18:40","v":37.1},{"s":"Beállított páratartalom","t":"18:42","v":34.4},{"s":"Beállított páratartalom","t":"18:45","v":33.3},{"s":"Beállított páratartalom","t":"18:47","v":30.2},{"s":"Beállított páratartalom","t":"19:47","v":30.2}
]
},
"layer": [
{
 "data": {"name": "temp", "format": {"parse": {"t": "date:'%H:%M'"}}},
 "mark": {"type": "line", "strokeCap": "butt"},
 "encoding": {
  "x": {"field": "t", "type": "temporal",
   "scale": {"domain": [{"year":1900,"month":1,"date":1,"hours":7},{"year":1900,"month":1,"date":1,"hours":20}], "nice": false},
   "axis": {"orient": "bottom", "format": "%H:%M", "values": [{"year":1900,"month":1,"date":1,"hours":8},{"year":1900,"month":1,"date":1,"hours":10},{"year":1900,"month":1,"date":1,"hours":12},{"year":1900,"month":1,"date":1,"hours":14},{"year":1900,"month":1,"date":1,"hours":16},{"year":1900,"month":1,"date":1,"hours":18},{"year":1900,"month":1,"date":1,"hours":20}],
    "tickSize": -7, "tickColor": "#555", "domainColor": "#555", "labelColor": "#333", "labelPadding": 14, "labelFlush": false,
    "grid": true, "gridColor": "#e2e2e2", "title": "Dátum és idő", "titleColor": "#333", "titleY": 34, "titleBaseline": "middle", "titleFontSize": 14}},
  "y": {"field": "v", "type": "quantitative", "scale": {"domain": [0, 80], "nice": false, "zero": false},
   "axis": {"orient": "left", "values": [0,2,4,6,8,10,12,14,16,18,20,22,24,26,28,30,32,34,36,38,40,42,44,46,48,50,52,54,56,58,60,62,64,66,68,70,72,74,76,78,80],
    "labelExpr": "datum.value % 10 === 0 ? datum.label : ''",
    "tickSize": -8, "tickColor": {"condition": {"test": "datum.value % 10 === 0", "value": "#0072BD"}, "value": "transparent"},
    "labelPadding": 15, "labelColor": "#0072BD", "domainColor": "#9cc8ea", "labelFlush": false,
    "grid": true, "gridColor": {"condition": {"test": "datum.value % 10 === 0", "value": "#d9e8f5"}, "value": "#cfe2f2"},
    "gridDash": {"condition": {"test": "datum.value % 10 === 0", "value": []}, "value": [1, 2]},
    "title": "Hőmérséklet (°C)", "titleColor": "#0072BD", "titleX": -32, "titleY": 240, "titleAngle": 270, "titleBaseline": "middle", "titleAlign": "center"}},
  "color": {"field": "s", "type": "nominal",
   "scale": {"domain": ["B. hőmérséklet","K. hőmérséklet 1.","K. hőmérséklet 2.","K. hőmérséklet 3.","K. hőmérséklet 4.","K. hőmérséklet 5.","K. hőmérséklet 6.","Beállított hőmérséklet"],
    "range": ["#0072BD","#8CC2E8","#9DCBEC","#2F8ED6","#7FB9E3","#5FA6DB","#A9D2EF","#0072BD"]},
   "legend": {"title": null, "orient": "none", "legendX": 734, "legendY": -58}},
  "strokeDash": {"field": "s", "type": "nominal",
   "scale": {"domain": ["B. hőmérséklet","K. hőmérséklet 1.","K. hőmérséklet 2.","K. hőmérséklet 3.","K. hőmérséklet 4.","K. hőmérséklet 5.","K. hőmérséklet 6.","Beállított hőmérséklet"],
    "range": [[5,3],[1,0],[1,0],[5,3],[1,2],[6,2,1,2],[5,3],[1,0]]},
   "legend": {"title": null, "orient": "none", "legendX": 734, "legendY": -58}},
  "strokeWidth": {"field": "s", "type": "nominal",
   "scale": {"type": "ordinal", "domain": ["B. hőmérséklet","K. hőmérséklet 1.","K. hőmérséklet 2.","K. hőmérséklet 3.","K. hőmérséklet 4.","K. hőmérséklet 5.","K. hőmérséklet 6.","Beállított hőmérséklet"],
    "range": [1.3,1,1,1,1,1,1,2]},
   "legend": {"title": null, "orient": "none", "legendX": 734, "legendY": -58}}
 }
},
{
 "data": {"name": "hum", "format": {"parse": {"t": "date:'%H:%M'"}}},
 "mark": {"type": "line", "strokeCap": "butt"},
 "encoding": {
  "x": {"field": "t", "type": "temporal",
   "axis": {"orient": "bottom", "labels": false, "ticks": false, "domain": false, "grid": false, "title": "Jul 03, 2017", "titleColor": "#333", "titleFontSize": 14, "titleAnchor": "end", "titleAlign": "right", "titleX": 896, "titleY": 34, "titleBaseline": "middle"}},
  "y": {"field": "v", "type": "quantitative", "scale": {"domain": [0, 100], "nice": false},
   "axis": {"orient": "right", "values": [0,10,20,30,40,50,60,70,80,90,100], "tickSize": -8, "tickColor": "#D95319", "labelColor": "#D95319", "labelPadding": 12, "domainColor": "#F2B49B", "grid": false, "labelFlush": false,
    "title": "Páratartalom (R%)", "titleColor": "#D95319", "titleX": 44, "titleY": 240, "titleAngle": 270, "titleBaseline": "middle", "titleAlign": "center"}},
  "color": {"field": "s", "type": "nominal",
   "scale": {"domain": ["B. páratartalom","K. páratartalom 1.","K. páratartalom 2.","K. páratartalom 3.","K. páratartalom 4.","K. páratartalom 5.","K. páratartalom 6.","Beállított páratartalom"],
    "range": ["#D95319","#F2A585","#F4B297","#EC6A32","#EE9C7A","#E98A63","#F6C3AD","#D95319"]},
   "legend": {"title": null, "orient": "none", "legendX": 35, "legendY": -58}},
  "strokeDash": {"field": "s", "type": "nominal",
   "scale": {"domain": ["B. páratartalom","K. páratartalom 1.","K. páratartalom 2.","K. páratartalom 3.","K. páratartalom 4.","K. páratartalom 5.","K. páratartalom 6.","Beállított páratartalom"],
    "range": [[5,3],[1,0],[1,0],[5,3],[1,2],[6,2,1,2],[5,3],[1,0]]},
   "legend": {"title": null, "orient": "none", "legendX": 35, "legendY": -58}},
  "strokeWidth": {"field": "s", "type": "nominal",
   "scale": {"type": "ordinal", "domain": ["B. páratartalom","K. páratartalom 1.","K. páratartalom 2.","K. páratartalom 3.","K. páratartalom 4.","K. páratartalom 5.","K. páratartalom 6.","Beállított páratartalom"],
    "range": [1.3,1,1,1,1,1,1,2]},
   "legend": {"title": null, "orient": "none", "legendX": 35, "legendY": -58}}
 }
}
],
"resolve": {"scale": {"y": "independent", "color": "independent", "strokeDash": "independent", "strokeWidth": "independent"}, "axis": {"x": "independent"}}
}
